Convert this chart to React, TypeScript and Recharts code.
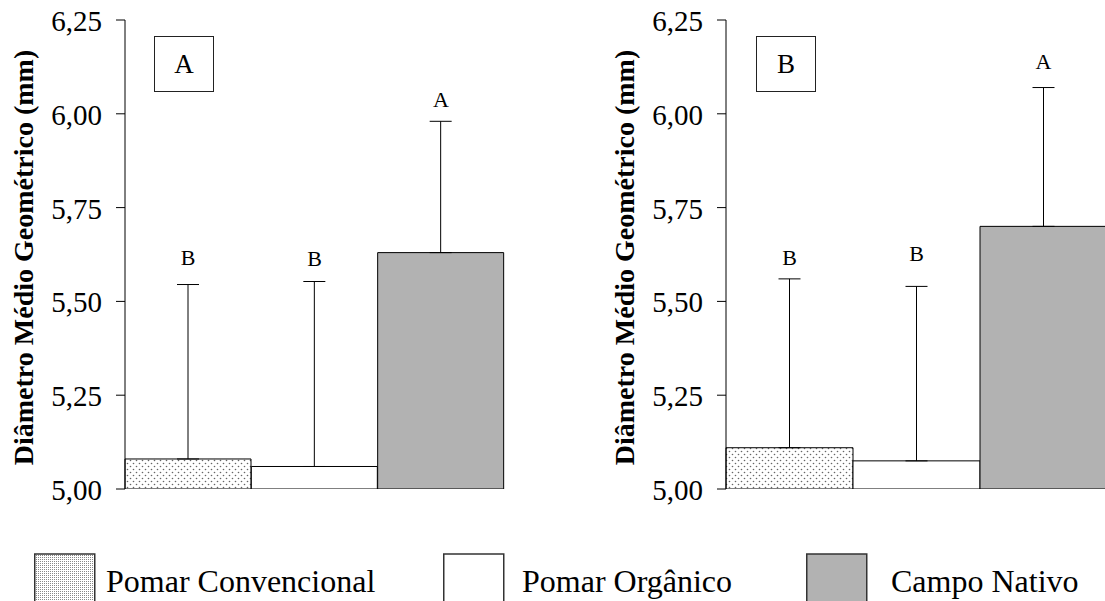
import React from 'react';
import { ComposedChart, Bar, Cell, XAxis, YAxis, ErrorBar, Line, LabelList } from 'recharts';

const categories = ['Pomar Convencional', 'Pomar Orgânico', 'Campo Nativo'];
const valuesA = [5.08, 5.06, 5.63];
const errorsA = [0.465, 0.493, 0.35];
const lettersA = ['B', 'B', 'A'];
const letterPosA = [5.616, 5.614, 6.037];
const valuesB = [5.11, 5.075, 5.7];
const errorsB = [0.45, 0.465, 0.37];
const lettersB = ['B', 'B', 'A'];
const letterPosB = [5.616, 5.628, 6.14];
const yTicks = [5, 5.25, 5.5, 5.75, 6, 6.25];
const panelLabels = ['A', 'B'];
const yLabel = 'Diâmetro Médio Geométrico (mm)';

const FF = '"Liberation Serif", "Times New Roman", Times, serif';
const fills = ['url(#dotsBar)', '#ffffff', '#b2b2b2'];
const legendFills = ['url(#dotsLegend)', '#ffffff', '#b2b2b2'];

function makeYLabel(labelX: number) {
  return (props: any) => {
    const vb = props.viewBox || {};
    const cy = vb.y != null && vb.height != null ? vb.y + vb.height / 2 : 256;
    return (
      <text
        x={labelX}
        y={cy + 3}
        transform={`rotate(-90, ${labelX}, ${cy + 3})`}
        textAnchor="middle"
        dominantBaseline="central"
        fontFamily={FF}
        fontWeight="bold"
        fontSize={28}
        fill="#000"
      >
        {yLabel}
      </text>
    );
  };
}

function YTick(props: any) {
  const { x, y, payload } = props;
  return (
    <text
      x={x}
      y={y + 1}
      textAnchor="end"
      dominantBaseline="central"
      fontFamily={FF}
      fontSize={29}
      fill="#000"
    >
      {Number(payload.value).toFixed(2).replace('.', ',')}
    </text>
  );
}

function LetterLabel(props: any) {
  const { x, y, value } = props;
  return (
    <text
      x={x}
      y={y}
      textAnchor="middle"
      dominantBaseline="central"
      fontFamily={FF}
      fontSize={22}
      fill="#000"
    >
      {value}
    </text>
  );
}

function Panel(props: {
  values: number[];
  errors: number[];
  letters: string[];
  letterPos: number[];
  width: number;
  axisWidth: number;
  rightMargin: number;
  labelX: number;
}) {
  const { values, errors, letters, letterPos, width, axisWidth, rightMargin, labelX } = props;
  const data = categories.map((c, i) => ({
    name: c,
    value: values[i],
    err: [0, errors[i]],
    letter: letters[i],
    lp: letterPos[i],
  }));
  return (
    <ComposedChart
      width={width}
      height={520}
      data={data}
      margin={{ top: 20, right: rightMargin, left: 0, bottom: 31 }}
      barCategoryGap={0}
    >
      <XAxis dataKey="name" hide />
      <YAxis
        type="number"
        domain={[5, 6.25]}
        ticks={yTicks}
        interval={0}
        allowDataOverflow
        width={axisWidth}
        axisLine={{ stroke: '#000', strokeWidth: 1 }}
        tickLine={{ stroke: '#000', strokeWidth: 1 }}
        tickSize={9}
        tickMargin={14}
        tick={<YTick />}
        label={{ content: makeYLabel(labelX) } as any}
      />
      <Bar dataKey="value" stroke="#000" strokeWidth={1} isAnimationActive={false}>
        {data.map((d, i) => (
          <Cell key={d.name} fill={fills[i]} />
        ))}
        <ErrorBar dataKey="err" width={11} stroke="#000" strokeWidth={1} direction="y" isAnimationActive={false} />
      </Bar>
      <Line
        dataKey="lp"
        stroke="none"
        dot={false}
        activeDot={false}
        isAnimationActive={false}
        legendType="none"
      >
        <LabelList dataKey="letter" content={<LetterLabel />} />
      </Line>
    </ComposedChart>
  );
}

const boxStyle = (left: number): React.CSSProperties => ({
  position: 'absolute',
  left,
  top: 36,
  width: 58,
  height: 54,
  border: '1.5px solid #222',
  background: '#fff',
  fontFamily: FF,
  fontSize: 27,
  lineHeight: '54px',
  textAlign: 'center',
  color: '#000',
});

const legendSquareX = [34, 443, 806];
const legendTextX = [106, 522, 891];

export default function App() {
  return (
    <div
      style={{
        position: 'fixed',
        left: 0,
        top: 0,
        width: 1105,
        height: 601,
        overflow: 'hidden',
        background: '#fff',
      }}
    >
      <svg width={0} height={0} style={{ position: 'absolute' }}>
        <defs>
          <pattern id="dotsBar" width={6} height={6} patternUnits="userSpaceOnUse">
            <rect width={6} height={6} fill="#fff" />
            <circle cx={1.5} cy={1.5} r={0.8} fill="#666" />
            <circle cx={4.5} cy={4.5} r={0.8} fill="#666" />
          </pattern>
          <pattern id="dotsLegend" width={2} height={2} patternUnits="userSpaceOnUse">
            <rect width={2} height={2} fill="#fff" />
            <rect x={0} y={0} width={1} height={1} fill="#888" />
          </pattern>
        </defs>
      </svg>
      <div style={{ position: 'absolute', left: 0, top: 0 }}>
        <Panel
          values={valuesA}
          errors={errorsA}
          letters={lettersA}
          letterPos={letterPosA}
          width={560}
          axisWidth={125}
          rightMargin={56}
          labelX={23}
        />
      </div>
      <div style={{ position: 'absolute', left: 560, top: 0 }}>
        <Panel
          values={valuesB}
          errors={errorsB}
          letters={lettersB}
          letterPos={letterPosB}
          width={547}
          axisWidth={166}
          rightMargin={0}
          labelX={64}
        />
      </div>
      <div style={boxStyle(154)}>{panelLabels[0]}</div>
      <div style={boxStyle(756)}>{panelLabels[1]}</div>
      {categories.map((c, i) => (
        <React.Fragment key={c}>
          <svg
            style={{ position: 'absolute', left: legendSquareX[i], top: 553 }}
            width={62}
            height={50}
          >
            <rect x={0.75} y={1} width={60} height={60} fill={legendFills[i]} stroke="#333" strokeWidth={1.5} />
          </svg>
          <div
            style={{
              position: 'absolute',
              left: legendTextX[i],
              top: 563,
              fontFamily: FF,
              fontSize: 32,
              lineHeight: '36px',
              color: '#000',
              whiteSpace: 'nowrap',
            }}
          >
            {c}
          </div>
        </React.Fragment>
      ))}
    </div>
  );
}
